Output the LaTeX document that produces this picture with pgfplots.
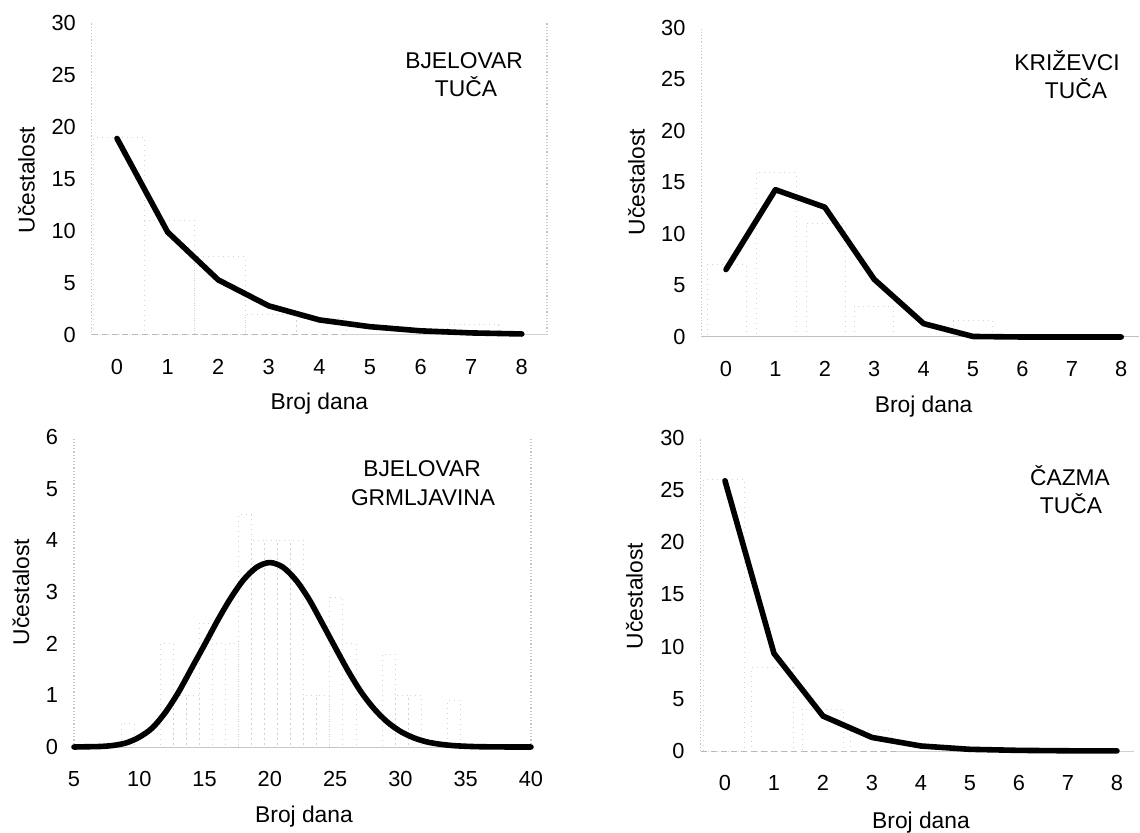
\documentclass[border=0pt]{standalone}
\usepackage{pgfplots}
\pgfplotsset{compat=1.18}
\usepackage{fontspec}
\setmainfont{Liberation Sans}

% 1 px of the reference = 0.5pt
\pgfplotsset{
  panel/.style={
    scale only axis, anchor=south west, clip=false,
    axis line style={draw=none},
    tick style={draw=none},
    font=\fontsize{11.4}{14}\selectfont,
    tick label style={font=\fontsize{10.9}{13}\selectfont},
    /pgf/number format/assume math mode=true,
    yticklabel style={anchor=east, inner sep=0pt, xshift=-7.75pt},
    xticklabel style={anchor=center, inner sep=0pt, yshift=-16pt},
  },
  fitline/.style={black, line width=2.8pt, line join=round, line cap=round, mark=none},
  histbar/.style={ybar, bar shift=0pt, draw=gray!35, dotted, line width=0.5pt, fill=none, mark=none},
}
\tikzset{frame/.style={gray!45, densely dotted, line width=0.6pt}}

\begin{document}
\begin{tikzpicture}
\fontsize{11.4}{14}\selectfont

% Bjelovar tuca
\begin{axis}[panel, at={(45.85pt,-167.5pt)}, width=227.7pt, height=156pt,
  xmin=-0.5, xmax=8.5, ymin=0, ymax=30,
  xtick={0,...,8}, ytick={0,5,...,30}]
\addplot[histbar, bar width=1] coordinates {
  (0.04,19) (1.04,11) (2.04,7.5) (3.04,2) (4.04,1.6) (7.04,1)
};
\draw[frame] (axis cs:-0.5,0) -- (axis cs:-0.5,30);
\draw[frame] (axis cs:8.5,0) -- (axis cs:8.5,30);
\draw[gray!55, densely dashed, line width=0.5pt] (axis cs:-0.5,0) -- (axis cs:4.5,0);
\draw[gray!35, line width=0.5pt] (axis cs:4.5,0) -- (axis cs:8.5,0);
\addplot[fitline] coordinates {
  (0,18.9) (1,9.9) (2,5.3) (3,2.8) (4,1.45) (5,0.8) (6,0.4) (7,0.2) (8,0.1)
};
\end{axis}

% Krizevci tuca
\begin{axis}[panel, at={(350.65pt,-168.5pt)}, width=218.6pt, height=154.5pt,
  xmin=-0.5, xmax=8.35, ymin=0, ymax=30,
  xtick={0,...,8}, ytick={0,5,...,30}]
\addplot[histbar, bar width=0.8] coordinates {
  (0.02,7) (1.02,16) (2.02,11) (3.0,3) (5.0,1.6)
};
\draw[frame] (axis cs:-0.5,0) -- (axis cs:-0.5,30);
\draw[gray!50, line width=0.5pt] (axis cs:-0.5,0) -- (axis cs:8.35,0);
\addplot[fitline] coordinates {
  (0,6.55) (1,14.3) (2,12.6) (3,5.6) (4,1.3) (5,0.05) (6,0) (7,0) (8,0)
};
\end{axis}

% Bjelovar grmljavina
\begin{axis}[panel, at={(37pt,-373.5pt)}, width=228.5pt, height=155pt,
  xmin=5, xmax=40, ymin=0, ymax=6,
  xtick={5,10,...,40}, ytick={0,...,6}]
\addplot[histbar, bar width=1] coordinates {
  (9.1,0.45) (12.1,2) (13.1,1) (14.1,1) (15.1,2.4) (16.1,2) (17.1,2)
  (18.1,4.5) (19.1,4) (20.1,4) (21.1,4) (22.1,4) (23.1,1) (24.1,1)
  (25.1,2.9) (26.1,2) (29.1,1.8) (30.1,1) (31.1,1) (34.1,0.9)
};
\draw[frame] (axis cs:5,0) -- (axis cs:5,6);
\draw[frame] (axis cs:40,0) -- (axis cs:40,6);
\draw[gray!45, line width=0.5pt] (axis cs:5,0) -- (axis cs:40,0);
\addplot[fitline, smooth] coordinates {
  (5,0) (6,0.005) (7,0.01) (8,0.03) (9,0.08) (10,0.19) (11,0.37) (12,0.67)
  (13,1.06) (14,1.52) (15,1.98) (16,2.45) (17,2.88) (18,3.24) (19,3.48)
  (20,3.57) (21,3.48) (22,3.23) (23,2.86) (24,2.40) (25,1.93) (26,1.47)
  (27,1.06) (28,0.735) (29,0.483) (30,0.302) (31,0.18) (32,0.10) (33,0.055)
  (34,0.028) (35,0.014) (36,0.006) (37,0.003) (38,0.001) (39,0) (40,0)
};
\end{axis}

% Cazma tuca
\begin{axis}[panel, at={(350.25pt,-375.5pt)}, width=216.8pt, height=156.5pt,
  xmin=-0.5, xmax=8.35, ymin=0, ymax=30,
  xtick={0,...,8}, ytick={0,5,...,30}]
\addplot[histbar, bar width=0.85] coordinates {
  (-0.02,26) (0.97,8) (2.0,4) (2.98,2)
};
\draw[frame] (axis cs:-0.5,0) -- (axis cs:-0.5,30);
\draw[gray!55, densely dashed, line width=0.5pt] (axis cs:-0.5,0) -- (axis cs:3.5,0);
\draw[gray!35, line width=0.5pt] (axis cs:3.5,0) -- (axis cs:8.35,0);
\addplot[fitline] coordinates {
  (0,25.9) (1,9.35) (2,3.35) (3,1.3) (4,0.48) (5,0.16) (6,0.06) (7,0.02) (8,0.01)
};
\end{axis}

% axis titles
\node[rotate=90, anchor=base] at (17.25pt,-90pt) {Učestalost};
\node[rotate=90, anchor=base] at (322.25pt,-91pt) {Učestalost};
\node[rotate=90, anchor=base] at (14.5pt,-296pt) {Učestalost};
\node[rotate=90, anchor=base] at (321.35pt,-298pt) {Učestalost};
\node[anchor=base] at (159.7pt,-205pt) {Broj dana};
\node[anchor=base] at (461.8pt,-206.5pt) {Broj dana};
\node[anchor=base] at (152pt,-411pt) {Broj dana};
\node[anchor=base] at (460.5pt,-414pt) {Broj dana};

% panel names
\node[anchor=base] at (232pt,-34.1pt) {BJELOVAR};
\node[anchor=base] at (233pt,-48.1pt) {TUČA};
\node[anchor=base] at (533.5pt,-35.1pt) {KRIŽEVCI};
\node[anchor=base] at (538pt,-49.1pt) {TUČA};
\node[anchor=base] at (211pt,-238.1pt) {BJELOVAR};
\node[anchor=base] at (211.5pt,-252.6pt) {GRMLJAVINA};
\node[anchor=base] at (535pt,-242.6pt) {ČAZMA};
\node[anchor=base] at (535.5pt,-256.6pt) {TUČA};

\pgfresetboundingbox
\path[use as bounding box] (0,0) rectangle (570pt,-416.5pt);
\end{tikzpicture}
\end{document}
